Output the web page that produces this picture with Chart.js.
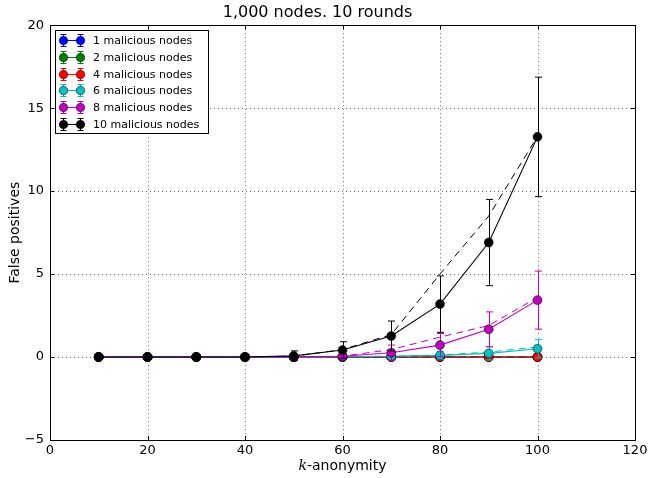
<!DOCTYPE html>
<html><head><meta charset="utf-8">
<script src="https://cdn.jsdelivr.net/npm/chart.js@4/dist/chart.umd.min.js"></script>
<style>html,body{margin:0;padding:0;background:#fff;}#wrap{width:648px;height:478px;}</style>
</head><body><div id="wrap"><canvas id="c" width="648" height="478"></canvas></div>
<script>
const chartTitle = '1,000 nodes. 10 rounds';
const kValues = [10, 20, 30, 40, 50, 60, 70, 80, 90, 100];
const seriesNames = ['1 malicious nodes', '2 malicious nodes', '4 malicious nodes', '6 malicious nodes', '8 malicious nodes', '10 malicious nodes'];
const seriesColors = ['#0000ff', '#008000', '#ff0000', '#00bfbf', '#bf00bf', '#000000'];
// measured false positives (solid lines with markers)
const fp1  = [0, 0, 0, 0, 0, 0, 0, 0, 0, 0];
const fp2  = [0, 0, 0, 0, 0, 0, 0, 0, 0, 0];
const fp4  = [0, 0, 0, 0, 0, 0, 0, 0, 0, 0];
const fp6  = [0, 0, 0, 0, 0, 0.02, 0.05, 0.1, 0.22, 0.5];
const fp8  = [0, 0, 0, 0, 0.01, 0.05, 0.26, 0.72, 1.67, 3.43];
const fp10 = [0, 0, 0, 0, 0.07, 0.42, 1.27, 3.19, 6.9, 13.27];
// error bar half-lengths
const err1  = [0, 0, 0, 0, 0, 0, 0, 0, 0, 0];
const err2  = [0, 0, 0, 0, 0, 0, 0, 0, 0, 0];
const err4  = [0, 0, 0, 0, 0, 0, 0, 0, 0, 0];
const err6  = [0, 0, 0, 0, 0, 0.05, 0.1, 0.25, 0.4, 0.55];
const err8  = [0, 0, 0, 0, 0.05, 0.15, 0.46, 0.7, 1.05, 1.75];
const err10 = [0, 0, 0, 0, 0.3, 0.5, 0.9, 1.7, 2.6, 3.6];
// expected values (dashed lines)
const exp1  = [0, 0, 0, 0, 0, 0, 0, 0, 0, 0];
const exp2  = [0, 0, 0, 0, 0, 0, 0, 0, 0, 0];
const exp4  = [0, 0, 0, 0, 0, 0, 0, 0, 0, 0];
const exp6  = [0, 0, 0, 0, 0, 0.02, 0.05, 0.12, 0.3, 0.6];
const exp8  = [0, 0, 0, 0, 0, 0.05, 0.45, 1.2, 1.9, 3.6];
const exp10 = [0, 0, 0, 0, 0.05, 0.45, 1.35, 5.0, 8.5, 13.3];
const xTicks = [0, 20, 40, 60, 80, 100, 120];
const yTicks = [-5, 0, 5, 10, 15, 20];

const measured = [fp1, fp2, fp4, fp6, fp8, fp10];
const errors = [err1, err2, err4, err6, err8, err10];
const expected = [exp1, exp2, exp4, exp6, exp8, exp10];

const FONT = 'DejaVu Sans';
const datasets = [];
expected.forEach((vals, i) => {
  datasets.push({
    label: seriesNames[i] + ' (expected)',
    data: kValues.map((k, j) => ({x: k, y: vals[j]})),
    borderColor: seriesColors[i], backgroundColor: seriesColors[i],
    borderWidth: 1, borderDash: [7, 5], pointRadius: 0, fill: false, tension: 0,
    order: 100 - i, isExpected: true
  });
});
measured.forEach((vals, i) => {
  datasets.push({
    label: seriesNames[i],
    data: kValues.map((k, j) => ({x: k, y: vals[j]})),
    errors: errors[i],
    borderColor: seriesColors[i], backgroundColor: seriesColors[i],
    pointBackgroundColor: seriesColors[i], pointBorderColor: '#000', pointBorderWidth: 0.5,
    borderWidth: 1.1, pointRadius: 4.5, fill: false, tension: 0,
    order: 50 - i
  });
});

const minus = v => (v < 0 ? '\u2212' + Math.abs(v) : String(v));

const decor = {
  id: 'decor',
  beforeDatasetsDraw(chart) {
    const {ctx, chartArea: a, scales: {x, y}} = chart;
    ctx.save();
    ctx.strokeStyle = '#000'; ctx.lineWidth = 0.6; ctx.setLineDash([1, 3]);
    xTicks.forEach(t => {
      const px = Math.round(x.getPixelForValue(t)) + 0.5;
      if (t === xTicks[0] || t === xTicks[xTicks.length - 1]) return;
      ctx.beginPath(); ctx.moveTo(px, a.top); ctx.lineTo(px, a.bottom); ctx.stroke();
    });
    yTicks.forEach(t => {
      const py = Math.round(y.getPixelForValue(t)) + 0.5;
      if (t === yTicks[0] || t === yTicks[yTicks.length - 1]) return;
      ctx.beginPath(); ctx.moveTo(a.left, py); ctx.lineTo(a.right, py); ctx.stroke();
    });
    ctx.restore();
  },
  beforeDatasetDraw(chart, args) {
    const ds = chart.data.datasets[args.index];
    if (!ds.errors) return;
    const {ctx, scales: {x, y}} = chart;
    ctx.save();
    ctx.strokeStyle = ds.borderColor; ctx.lineWidth = 1; ctx.setLineDash([]);
    ds.data.forEach((p, j) => {
      const e = ds.errors[j];
      if (!e) return;
      const px = Math.round(x.getPixelForValue(p.x)) + 0.5;
      const yt = y.getPixelForValue(p.y + e), yb = y.getPixelForValue(p.y - e);
      ctx.beginPath();
      ctx.moveTo(px, yt); ctx.lineTo(px, yb);
      ctx.moveTo(px - 3.5, yt); ctx.lineTo(px + 3.5, yt);
      ctx.moveTo(px - 3.5, yb); ctx.lineTo(px + 3.5, yb);
      ctx.stroke();
    });
    ctx.restore();
  },
  afterDatasetsDraw(chart) {
    const {ctx, chartArea: a, scales: {x, y}} = chart;
    ctx.save();
    // frame
    ctx.strokeStyle = '#000'; ctx.lineWidth = 1; ctx.setLineDash([]);
    ctx.strokeRect(Math.round(a.left) + 0.5, Math.round(a.top) + 0.5, Math.round(a.right - a.left), Math.round(a.bottom - a.top));
    // inward tick marks
    ctx.beginPath();
    xTicks.forEach(t => {
      const px = Math.round(x.getPixelForValue(t)) + 0.5;
      ctx.moveTo(px, a.bottom); ctx.lineTo(px, a.bottom - 4);
      ctx.moveTo(px, a.top); ctx.lineTo(px, a.top + 4);
    });
    yTicks.forEach(t => {
      const py = Math.round(y.getPixelForValue(t)) + 0.5;
      ctx.moveTo(a.left, py); ctx.lineTo(a.left + 4, py);
      ctx.moveTo(a.right, py); ctx.lineTo(a.right - 4, py);
    });
    ctx.stroke();
    // legend
    const lx = 55, ly = 30, lw = 153, lh = 103;
    ctx.fillStyle = '#fff'; ctx.fillRect(lx, ly, lw, lh);
    ctx.strokeRect(lx + 0.5, ly + 0.5, lw, lh);
    ctx.font = '11px "' + FONT + '"'; ctx.textBaseline = 'middle'; ctx.textAlign = 'left';
    seriesNames.forEach((name, i) => {
      const cy = Math.round(ly + 10 + i * 16.8) + 0.5;
      const c = seriesColors[i];
      ctx.strokeStyle = c; ctx.lineWidth = 1;
      ctx.beginPath(); ctx.moveTo(63, cy); ctx.lineTo(80, cy);
      [63, 80].forEach(mx => {
        ctx.moveTo(mx + 0.5, cy - 6); ctx.lineTo(mx + 0.5, cy + 6);
        ctx.moveTo(mx - 2.5, cy - 6); ctx.lineTo(mx + 3.5, cy - 6);
        ctx.moveTo(mx - 2.5, cy + 6); ctx.lineTo(mx + 3.5, cy + 6);
      });
      ctx.stroke();
      [63, 80].forEach(mx => {
        ctx.beginPath(); ctx.arc(mx + 0.5, cy, 4.3, 0, Math.PI * 2);
        ctx.fillStyle = c; ctx.fill();
        ctx.strokeStyle = '#000'; ctx.lineWidth = 0.5; ctx.stroke();
      });
      ctx.fillStyle = '#000';
      ctx.fillText(name, 93, cy + 0.5);
    });
    // axis titles
    ctx.fillStyle = '#000'; ctx.textBaseline = 'middle';
    const cx = (a.left + a.right) / 2;
    ctx.font = 'italic 14px "DejaVu Serif"';
    const kW = ctx.measureText('k').width;
    ctx.font = '14px "' + FONT + '"';
    const restW = ctx.measureText('-anonymity').width;
    let sx = cx - (kW + restW) / 2;
    ctx.textAlign = 'left';
    ctx.font = 'italic 14px "DejaVu Serif"';
    ctx.fillText('k', sx, 466);
    ctx.font = '14px "' + FONT + '"';
    ctx.fillText('-anonymity', sx + kW, 466);
    ctx.save();
    ctx.translate(15, (a.top + a.bottom) / 2);
    ctx.rotate(-Math.PI / 2);
    ctx.textAlign = 'center';
    ctx.fillText('False positives', 0, 0);
    ctx.restore();
    ctx.restore();
  }
};

new Chart(document.getElementById('c'), {
  type: 'line',
  data: {datasets},
  options: {
    responsive: false, animation: false, devicePixelRatio: 1,
    layout: {padding: {top: 0, right: 13, bottom: 0, left: 0}},
    plugins: {
      legend: {display: false}, tooltip: {enabled: false},
      title: {display: true, text: chartTitle, color: '#000',
        font: {family: FONT, size: 16, weight: 'normal'}, padding: {top: 3, bottom: 3}}
    },
    scales: {
      x: {
        type: 'linear', min: 0, max: 120,
        grid: {display: false, drawTicks: false}, border: {display: false},
        ticks: {stepSize: 20, color: '#000', font: {family: FONT, size: 13}, padding: 3, maxRotation: 0,
          callback: v => minus(v)},
        afterFit: s => { s.height = 38; s.paddingLeft = 0; s.paddingRight = 0; }
      },
      y: {
        type: 'linear', min: -5, max: 20,
        grid: {display: false, drawTicks: false}, border: {display: false},
        ticks: {stepSize: 5, color: '#000', font: {family: FONT, size: 13}, padding: 6,
          callback: v => minus(v)},
        afterFit: s => { s.width = 50; s.paddingTop = 0; s.paddingBottom = 0; }
      }
    }
  },
  plugins: [decor]
});
</script></body></html>
